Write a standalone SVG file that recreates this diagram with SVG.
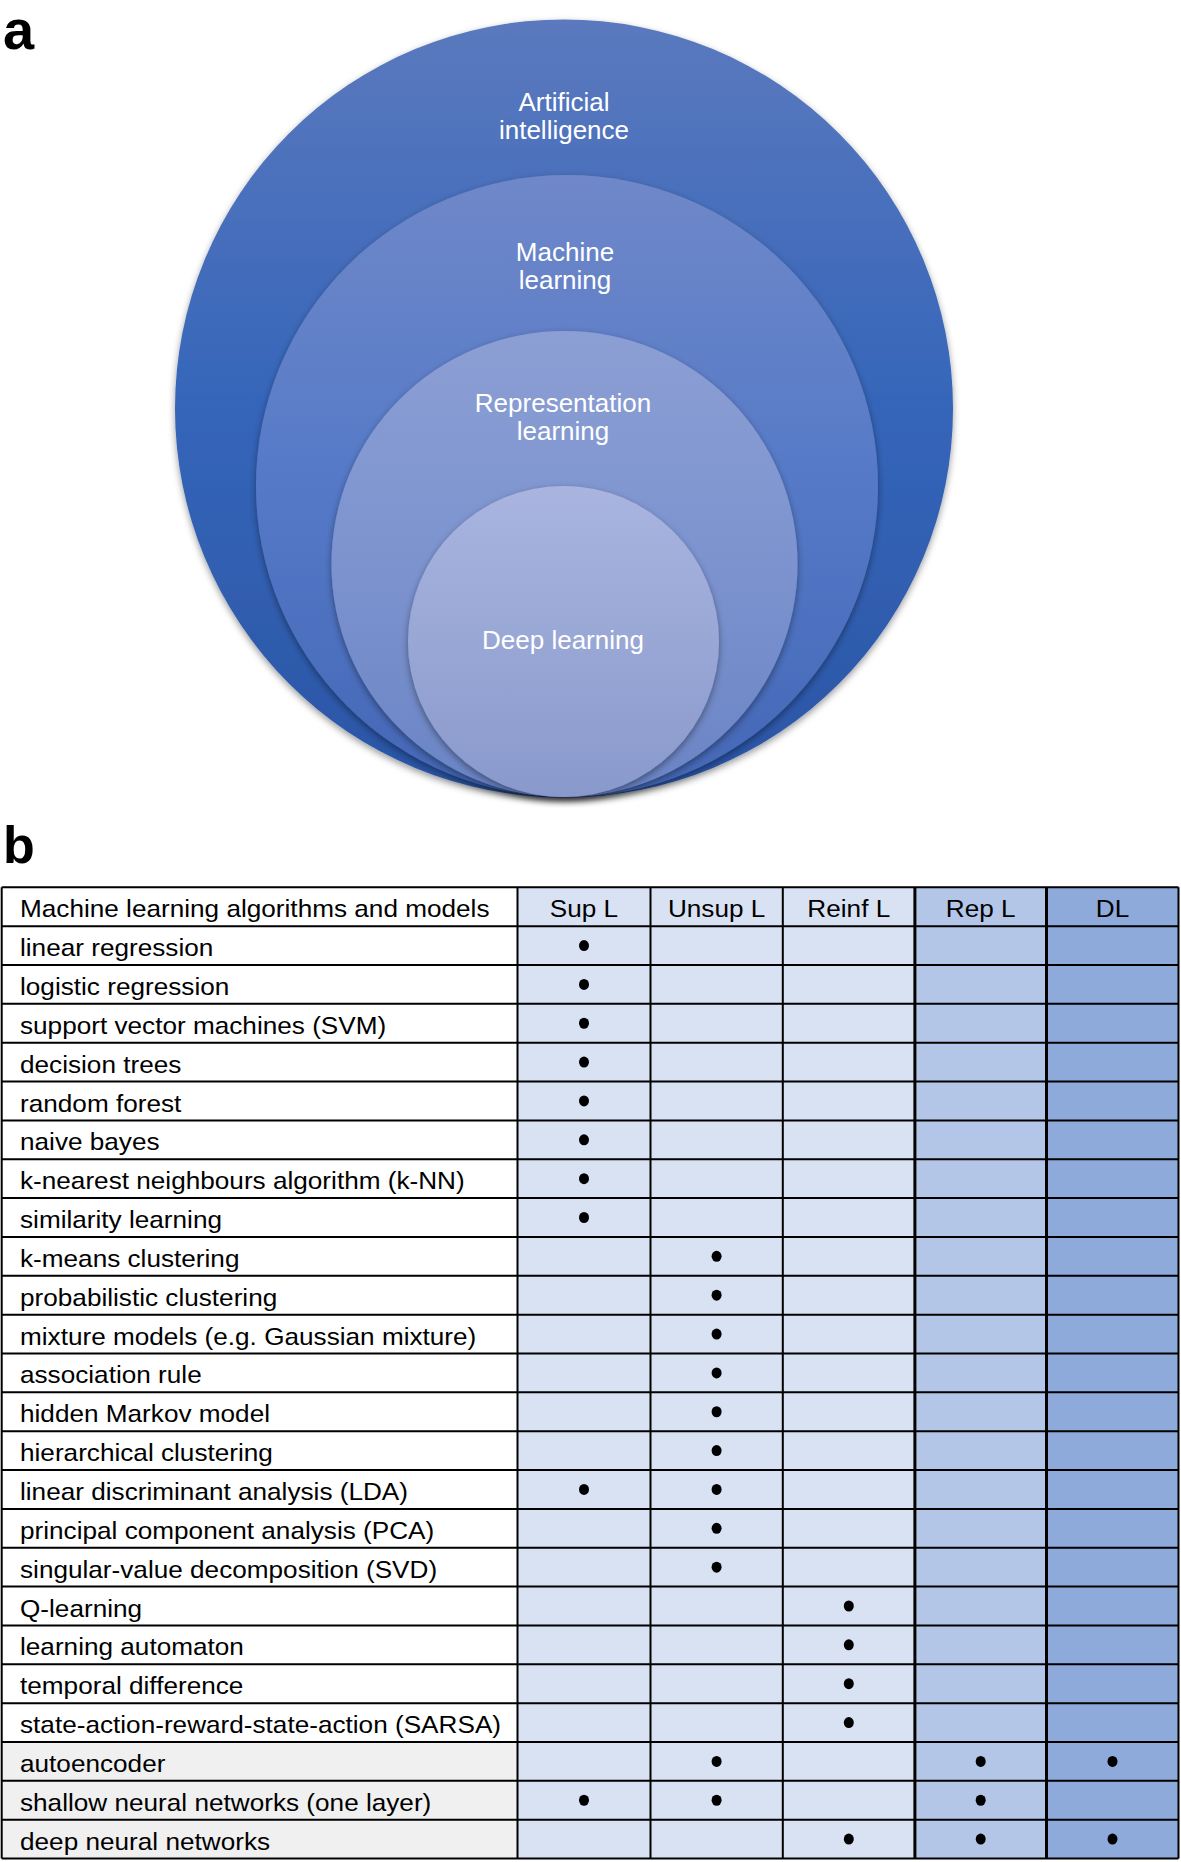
<svg xmlns="http://www.w3.org/2000/svg" width="1181" height="1862" viewBox="0 0 1181 1862">
<style>
.lbl{font-family:"Liberation Sans",Arial,sans-serif;font-weight:bold;fill:#000}
.ct{font-family:"Liberation Sans",Arial,sans-serif;font-size:26px;fill:#fff;text-anchor:middle}
.tx{font-family:"Liberation Sans",Arial,sans-serif;font-size:24px;fill:#000}
.hc{text-anchor:middle}
.gl{stroke:#000;stroke-width:2;fill:none}
.gt{stroke:#000;stroke-width:3;fill:none}
.dot{fill:#000}
</style>
<defs>
<linearGradient id="gAI" x1="0" y1="0" x2="0" y2="1">
<stop offset="0" stop-color="#5b79be"/><stop offset="0.5" stop-color="#3565b9"/><stop offset="1" stop-color="#2b55a5"/>
</linearGradient>
<linearGradient id="gML" x1="0" y1="0" x2="0" y2="1">
<stop offset="0" stop-color="#6f88c9"/><stop offset="0.5" stop-color="#5579c7"/><stop offset="1" stop-color="#4467b6"/>
</linearGradient>
<linearGradient id="gRL" x1="0" y1="0" x2="0" y2="1">
<stop offset="0" stop-color="#8c9fd4"/><stop offset="0.5" stop-color="#7c93cf"/><stop offset="1" stop-color="#6a84c4"/>
</linearGradient>
<linearGradient id="gDL" x1="0" y1="0" x2="0" y2="1">
<stop offset="0" stop-color="#a9b5df"/><stop offset="1" stop-color="#8999cc"/>
</linearGradient>
<filter id="sh" x="-10%" y="-10%" width="120%" height="125%">
<feDropShadow dx="0" dy="3" stdDeviation="3.5" flood-color="#000" flood-opacity="0.4"/>
</filter>
</defs>

<text class="lbl" x="3" y="49" font-size="56">a</text>
<text class="lbl" x="3" y="863" font-size="52">b</text>

<g id="ai">
<ellipse cx="564" cy="408.5" rx="389" ry="389" fill="url(#gAI)" filter="url(#sh)"/>
<text class="ct" x="564" y="111">Artificial</text>
<text class="ct" x="564" y="139">intelligence</text>
</g>
<g id="ml">
<ellipse cx="567" cy="486" rx="311" ry="311" fill="url(#gML)" filter="url(#sh)"/>
<text class="ct" x="565" y="261">Machine</text>
<text class="ct" x="565" y="289">learning</text>
</g>
<g id="rl">
<ellipse cx="564.5" cy="564" rx="233" ry="233" fill="url(#gRL)" filter="url(#sh)"/>
<text class="ct" x="563" y="412">Representation</text>
<text class="ct" x="563" y="440">learning</text>
</g>
<g id="dl">
<ellipse cx="563.5" cy="641.5" rx="155.5" ry="155.5" fill="url(#gDL)" filter="url(#sh)"/>
<text class="ct" x="563" y="649">Deep learning</text>
</g>

<g id="table">
<rect x="1.7" y="887.3" width="515.8" height="971.25" fill="#fff"/>
<rect x="1.7" y="1742" width="515.8" height="116.55" fill="#f0f0f0"/>
<rect x="517.5" y="887.3" width="397.4" height="971.25" fill="#d9e2f3"/>
<rect x="914.9" y="887.3" width="131.6" height="971.25" fill="#b4c6e7"/>
<rect x="1046.5" y="887.3" width="132" height="971.25" fill="#8eaadb"/>

<g id="grid">
<path class="gl" d="M1.7 887.3H1178.5M1.7 926.15H1178.5M1.7 965H1178.5M1.7 1003.85H1178.5M1.7 1042.7H1178.5M1.7 1081.55H1178.5M1.7 1120.4H1178.5M1.7 1159.25H1178.5M1.7 1198.1H1178.5M1.7 1236.95H1178.5M1.7 1275.8H1178.5M1.7 1314.65H1178.5M1.7 1353.5H1178.5M1.7 1392.35H1178.5M1.7 1431.2H1178.5M1.7 1470.05H1178.5M1.7 1508.9H1178.5M1.7 1547.75H1178.5M1.7 1586.6H1178.5M1.7 1625.45H1178.5M1.7 1664.3H1178.5M1.7 1703.15H1178.5M1.7 1742H1178.5M1.7 1780.85H1178.5M1.7 1819.7H1178.5M1.7 1858.55H1178.5"/>
<path class="gl" d="M1.7 887.3V1858.55M517.5 887.3V1858.55M650.5 887.3V1858.55M782.8 887.3V1858.55M1178.5 887.3V1858.55"/>
<path class="gt" d="M914.9 887.3V1858.55M1046.5 887.3V1858.55"/>
</g>

<g id="rows" transform="scale(1.09 1)">
<text class="tx" x="18.35" y="917.3">Machine learning algorithms and models</text>
<text class="tx hc" x="535.78" y="917.3">Sup L</text>
<text class="tx hc" x="657.43" y="917.3">Unsup L</text>
<text class="tx hc" x="778.72" y="917.3">Reinf L</text>
<text class="tx hc" x="899.72" y="917.3">Rep L</text>
<text class="tx hc" x="1020.64" y="917.3">DL</text>
<text class="tx" x="18.35" y="956.15">linear regression</text>
<text class="tx" x="18.35" y="995">logistic regression</text>
<text class="tx" x="18.35" y="1033.85">support vector machines (SVM)</text>
<text class="tx" x="18.35" y="1072.7">decision trees</text>
<text class="tx" x="18.35" y="1111.55">random forest</text>
<text class="tx" x="18.35" y="1150.4">naive bayes</text>
<text class="tx" x="18.35" y="1189.25">k-nearest neighbours algorithm (k-NN)</text>
<text class="tx" x="18.35" y="1228.1">similarity learning</text>
<text class="tx" x="18.35" y="1266.95">k-means clustering</text>
<text class="tx" x="18.35" y="1305.8">probabilistic clustering</text>
<text class="tx" x="18.35" y="1344.65">mixture models (e.g. Gaussian mixture)</text>
<text class="tx" x="18.35" y="1383.5">association rule</text>
<text class="tx" x="18.35" y="1422.35">hidden Markov model</text>
<text class="tx" x="18.35" y="1461.2">hierarchical clustering</text>
<text class="tx" x="18.35" y="1500.05">linear discriminant analysis (LDA)</text>
<text class="tx" x="18.35" y="1538.9">principal component analysis (PCA)</text>
<text class="tx" x="18.35" y="1577.75">singular-value decomposition (SVD)</text>
<text class="tx" x="18.35" y="1616.6">Q-learning</text>
<text class="tx" x="18.35" y="1655.45">learning automaton</text>
<text class="tx" x="18.35" y="1694.3">temporal difference</text>
<text class="tx" x="18.35" y="1733.15">state-action-reward-state-action (SARSA)</text>
<text class="tx" x="18.35" y="1772">autoencoder</text>
<text class="tx" x="18.35" y="1810.85">shallow neural networks (one layer)</text>
<text class="tx" x="18.35" y="1849.7">deep neural networks</text>
</g>

<g id="dots" class="dot">
<ellipse cx="584" cy="945.55" rx="5" ry="5.5"/>
<ellipse cx="584" cy="984.4" rx="5" ry="5.5"/>
<ellipse cx="584" cy="1023.25" rx="5" ry="5.5"/>
<ellipse cx="584" cy="1062.1" rx="5" ry="5.5"/>
<ellipse cx="584" cy="1100.95" rx="5" ry="5.5"/>
<ellipse cx="584" cy="1139.8" rx="5" ry="5.5"/>
<ellipse cx="584" cy="1178.65" rx="5" ry="5.5"/>
<ellipse cx="584" cy="1217.5" rx="5" ry="5.5"/>
<ellipse cx="716.6" cy="1256.35" rx="5" ry="5.5"/>
<ellipse cx="716.6" cy="1295.2" rx="5" ry="5.5"/>
<ellipse cx="716.6" cy="1334.05" rx="5" ry="5.5"/>
<ellipse cx="716.6" cy="1372.9" rx="5" ry="5.5"/>
<ellipse cx="716.6" cy="1411.75" rx="5" ry="5.5"/>
<ellipse cx="716.6" cy="1450.6" rx="5" ry="5.5"/>
<ellipse cx="584" cy="1489.45" rx="5" ry="5.5"/>
<ellipse cx="716.6" cy="1489.45" rx="5" ry="5.5"/>
<ellipse cx="716.6" cy="1528.3" rx="5" ry="5.5"/>
<ellipse cx="716.6" cy="1567.15" rx="5" ry="5.5"/>
<ellipse cx="848.8" cy="1606" rx="5" ry="5.5"/>
<ellipse cx="848.8" cy="1644.85" rx="5" ry="5.5"/>
<ellipse cx="848.8" cy="1683.7" rx="5" ry="5.5"/>
<ellipse cx="848.8" cy="1722.55" rx="5" ry="5.5"/>
<ellipse cx="716.6" cy="1761.4" rx="5" ry="5.5"/>
<ellipse cx="980.7" cy="1761.4" rx="5" ry="5.5"/>
<ellipse cx="1112.5" cy="1761.4" rx="5" ry="5.5"/>
<ellipse cx="584" cy="1800.25" rx="5" ry="5.5"/>
<ellipse cx="716.6" cy="1800.25" rx="5" ry="5.5"/>
<ellipse cx="980.7" cy="1800.25" rx="5" ry="5.5"/>
<ellipse cx="848.8" cy="1839.1" rx="5" ry="5.5"/>
<ellipse cx="980.7" cy="1839.1" rx="5" ry="5.5"/>
<ellipse cx="1112.5" cy="1839.1" rx="5" ry="5.5"/>
</g>
</g>
</svg>
